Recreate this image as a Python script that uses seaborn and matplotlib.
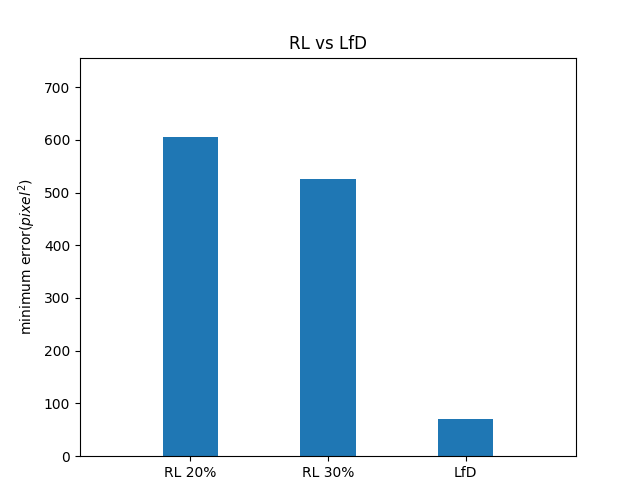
import matplotlib
matplotlib.use("Agg")
import matplotlib.pyplot as plt
import seaborn as sns
import pandas as pd

categories = ["RL 20%", "RL 30%", "LfD"]
values = [605, 525, 70]

df = pd.DataFrame({"method": categories, "error": values})

fig, ax = plt.subplots(figsize=(6.4, 4.8), dpi=100)
fig.subplots_adjust(bottom=0.05)
sns.barplot(data=df, x="method", y="error", color="#1f77b4", saturation=1,
            width=0.4, ax=ax)
ax.set_xlim(-0.8, 2.8)
ax.set_ylim(0, 756)
ax.set_xlabel("")
ax.set_ylabel("minimum error($pixel^2$)")
ax.set_title("RL vs LfD")
fig.savefig("out.png", dpi=100)
